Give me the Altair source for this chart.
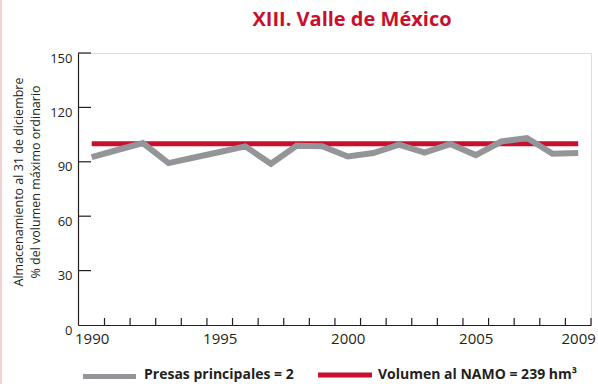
import altair as alt
import pandas as pd

# Storage at 31 December, % of maximum ordinary volume (NAMO)
years = list(range(1990, 2010))
storage_pct = [92.6, 96.5, 100.3, 89.3, 92.4, 95.4, 98.5, 88.9, 98.8, 98.6,
               92.9, 94.8, 99.4, 95.1, 99.8, 93.7, 101.2, 103.1, 94.4, 94.8]
namo_years = [1990, 2009]
namo_pct = [100, 100]

series_labels = ["Presas principales = 2", "Volumen al NAMO = 239 hm³"]
title_text = "XIII. Valle de México"
y_title_lines = ["Almacenamiento al 31 de diciembre", "% del volumen máximo ordinario"]
y_ticks = [0, 30, 60, 90, 120, 150]
x_label_years = [1990, 1995, 2000, 2005, 2009]

GRAY = "#939598"
RED = "#C8102E"
INK = "#231F20"
FONT = "Open Sans"

xscale = alt.Scale(domain=[1989.465, 2009.5], nice=False, zero=False)
yscale = alt.Scale(domain=[0, 150], nice=False)

storage = pd.DataFrame({"year": years, "pct": storage_pct})
namo = pd.DataFrame({"year": namo_years, "pct": namo_pct})

x_axis = alt.Axis(values=x_label_years, format="d", ticks=False, tickSize=0,
                  labelPadding=6, labelFontSize=15, labelFont=FONT, labelColor=INK,
                  domainColor=INK, domainWidth=1.2, grid=False, title=None)
y_axis = alt.Axis(values=y_ticks, ticks=False, tickSize=0, labelPadding=6,
                  labelOffset=5, labelFontSize=13, labelFont=FONT, labelColor=INK,
                  domainColor=INK, domainWidth=1.2, grid=False, title=None)

red_line = alt.Chart(namo).mark_line(color=RED, strokeWidth=5, strokeCap="butt").encode(
    x=alt.X("year:Q", scale=xscale, axis=x_axis),
    y=alt.Y("pct:Q", scale=yscale, axis=y_axis),
)
gray_line = alt.Chart(storage).mark_line(
    color=GRAY, strokeWidth=6, strokeCap="butt", strokeJoin="miter"
).encode(
    x=alt.X("year:Q", scale=xscale),
    y=alt.Y("pct:Q", scale=yscale),
)

# Inward-pointing ticks on both axes
y_tick_df = pd.DataFrame({"v": y_ticks[1:]})
y_tick_marks = alt.Chart(y_tick_df).mark_rule(color=INK, strokeWidth=1.2).encode(
    y=alt.Y("v:Q", scale=yscale), x=alt.value(0), x2=alt.value(13)
)
x_tick_df = pd.DataFrame({"v": [y + 0.5 for y in years]})
x_tick_marks = alt.Chart(x_tick_df).mark_rule(color=INK, strokeWidth=1.2).encode(
    x=alt.X("v:Q", scale=xscale), y=alt.value(265), y2=alt.value(272)
)

title = alt.Chart(pd.DataFrame({"t": [title_text]})).mark_text(
    font=FONT, fontSize=20, fontWeight="bold", color=RED, align="center", baseline="alphabetic"
).encode(text="t:N", x=alt.value(274), y=alt.value(-27))

ytitle1 = alt.Chart(pd.DataFrame({"t": [y_title_lines[0]]})).mark_text(
    font=FONT, fontSize=12.5, color=INK, angle=270, align="center", baseline="middle"
).encode(text="t:N", x=alt.value(-59.5), y=alt.value(129))
ytitle2 = alt.Chart(pd.DataFrame({"t": [y_title_lines[1]]})).mark_text(
    font=FONT, fontSize=12.5, color=INK, angle=270, align="center", baseline="middle"
).encode(text="t:N", x=alt.value(-42), y=alt.value(129))

# Legend row
leg1_swatch = alt.Chart(pd.DataFrame({"a": [0]})).mark_rule(color=GRAY, strokeWidth=5).encode(
    x=alt.value(5), x2=alt.value(58), y=alt.value(323.5)
)
leg1_text = alt.Chart(pd.DataFrame({"t": [series_labels[0]]})).mark_text(
    font=FONT, fontSize=14, fontWeight="bold", color=INK, align="left", baseline="alphabetic"
).encode(text="t:N", x=alt.value(66), y=alt.value(326))
leg2_swatch = alt.Chart(pd.DataFrame({"a": [0]})).mark_rule(color=RED, strokeWidth=5).encode(
    x=alt.value(240), x2=alt.value(294), y=alt.value(322)
)
leg2_text = alt.Chart(pd.DataFrame({"t": [series_labels[1]]})).mark_text(
    font=FONT, fontSize=14, fontWeight="bold", color=INK, align="left", baseline="alphabetic"
).encode(text="t:N", x=alt.value(300), y=alt.value(326))

# Thin page border on the left edge
border = alt.Chart(pd.DataFrame({"a": [0]})).mark_rule(color="#E8A3A6", strokeWidth=1).encode(
    x=alt.value(-77), y=alt.value(-53), y2=alt.value(331)
)

chart = alt.layer(
    red_line, gray_line, y_tick_marks, x_tick_marks, title, ytitle1, ytitle2,
    leg1_swatch, leg1_text, leg2_swatch, leg2_text, border
).properties(
    width=513, height=272,
    autosize=alt.AutoSizeParams(type="none"),
    padding={"left": 78, "top": 53, "right": 7, "bottom": 59},
).configure_view(stroke=None).configure(background="white")

chart.save("out.html", embed_options={"renderer": "svg", "actions": False})
